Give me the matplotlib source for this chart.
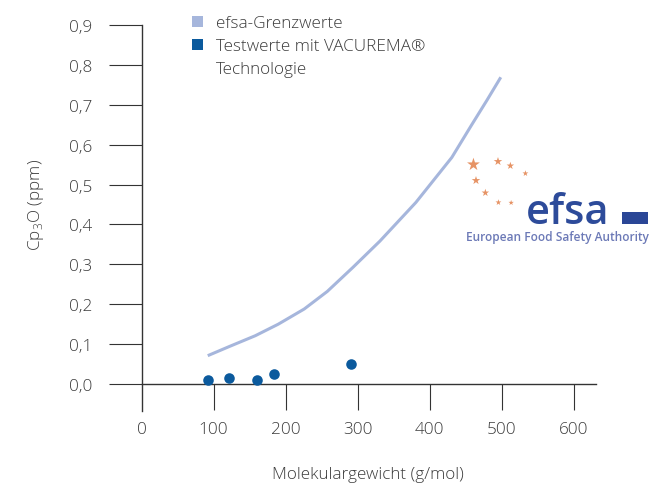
import matplotlib
matplotlib.use("Agg")
import matplotlib.pyplot as plt
from matplotlib.patches import Rectangle

# ---- data ----
mw_limit = [92, 122, 158, 190, 226, 258, 294, 331, 381, 431, 458, 480, 499]
cp_limit = [0.071, 0.094, 0.121, 0.150, 0.188, 0.232, 0.293, 0.358, 0.455, 0.568, 0.648, 0.712, 0.769]
mw_test = [93, 122, 160, 184, 291]
cp_test = [0.010, 0.014, 0.010, 0.026, 0.049]
x_ticks = [0, 100, 200, 300, 400, 500, 600]
y_ticks = [0.0, 0.1, 0.2, 0.3, 0.4, 0.5, 0.6, 0.7, 0.8, 0.9]
y_tick_labels = ["0,0", "0,1", "0,2", "0,3", "0,4", "0,5", "0,6", "0,7", "0,8", "0,9"]
legend_labels = ["efsa-Grenzwerte", "Testwerte mit VACUREMA®", "Technologie"]
x_label = "Molekulargewicht (g/mol)"
y_label = r"Cp$_\mathregular{3}$O (ppm)"

LIGHT = "#a6b6dc"
DARK = "#0b5a9d"
TEXT = "#3c3c3c"
AXC = "#333333"
FS = 12.3
FW = "light"

plt.rcParams["font.family"] = ["Open Sans", "DejaVu Sans"]

W, H = 654, 485
fig = plt.figure(figsize=(W / 100, H / 100), dpi=100)

def fx(px):
    return px / W

def fy(py):
    return 1 - py / H

ax = fig.add_axes([fx(141.5), fy(412), fx(596) - fx(141.5), fy(26) - fy(412)])
xmax = (596 - 141.5) / 0.72
ax.set_xlim(0, xmax)
ax.set_ylim(-0.0677, 0.9)

for s in ["top", "right"]:
    ax.spines[s].set_visible(False)
ax.spines["bottom"].set_position(("data", 0))
for s in ["left", "bottom"]:
    ax.spines[s].set_color(AXC)
    ax.spines[s].set_linewidth(1.0)

ax.set_xticks(x_ticks)
ax.set_xticklabels([str(v) for v in x_ticks], fontweight=FW)
ax.set_yticks(y_ticks)
ax.set_yticklabels(y_tick_labels, fontweight=FW)
ax.tick_params(axis="y", direction="out", length=23.8, width=0.8, color=AXC,
               labelsize=FS, labelcolor=TEXT, pad=11.5)
ax.tick_params(axis="x", direction="out", length=18.7, width=0.8, color=AXC,
               labelsize=FS, labelcolor=TEXT, pad=8)
ax.xaxis.get_major_ticks()[0].tick1line.set_visible(False)

ax.plot(mw_limit, cp_limit, color=LIGHT, lw=2.2, solid_capstyle="butt",
        solid_joinstyle="round", zorder=3)
ax.plot(mw_test, cp_test, "o", color=DARK, markersize=7.6, markeredgewidth=0, zorder=4)

# axis labels
fig.text(fx(368), fy(479), x_label, ha="center", va="baseline", fontsize=FS,
         color=TEXT, fontweight=FW)
fig.text(fx(36), fy(205), y_label, ha="center", va="center", rotation=90,
         fontsize=FS, color=TEXT, fontweight=FW)

# legend
fig.patches.append(Rectangle((fx(192), fy(28)), fx(11), 11 / H, transform=fig.transFigure,
                             facecolor=LIGHT, edgecolor="none"))
fig.patches.append(Rectangle((fx(192), fy(51)), fx(11), 11 / H, transform=fig.transFigure,
                             facecolor=DARK, edgecolor="none"))
for lab, by in zip(legend_labels, [28, 51, 74]):
    fig.text(fx(216), fy(by), lab, ha="left", va="baseline", fontsize=FS,
             color=TEXT, fontweight=FW)

# efsa logo (decoration)
star_px = [(473, 165), (497, 163), (510, 166), (525, 173), (475, 182), (485, 193), (498, 202), (511, 203)]
star_sz = [12, 8, 7, 5.5, 8, 7, 5.5, 5]
for (px, py), sz in zip(star_px, star_sz):
    fig.text(fx(px), fy(py), "★", ha="center", va="center", fontsize=sz,
             color="#e0783e", family="DejaVu Sans", alpha=0.8)
fig.text(fx(526), fy(224), "efsa", ha="left", va="baseline", fontsize=30,
         color="#2d4b9a", family="Open Sans", fontweight="semibold")
fig.patches.append(Rectangle((fx(622), fy(225)), fx(26), 12 / H, transform=fig.transFigure,
                             facecolor="#2a4696", edgecolor="none"))
fig.text(fx(557), fy(238), "European Food Safety Authority", ha="center", va="center",
         fontsize=8.6, color="#5262aa", family="Open Sans", fontweight="semibold", alpha=0.85)

fig.savefig("out.png", dpi=100)
